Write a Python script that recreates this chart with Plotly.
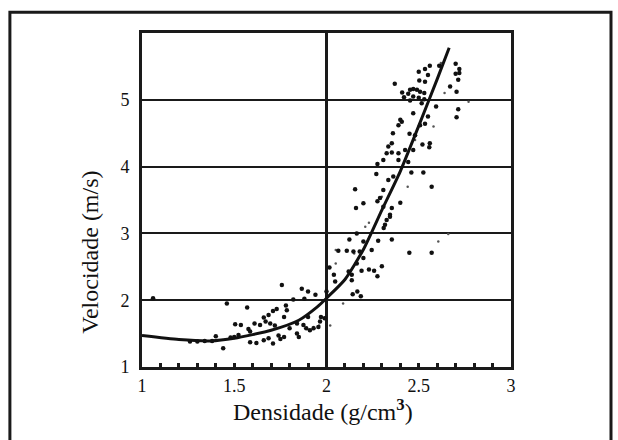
import plotly.graph_objects as go

# Fitted velocity-density trend
curve_x = [1.0, 1.2, 1.37, 1.5, 1.7, 1.85, 1.95, 2.0, 2.1, 2.2, 2.3, 2.4, 2.5, 2.6, 2.665]
curve_y = [1.47, 1.41, 1.39, 1.43, 1.55, 1.70, 1.90, 2.03, 2.31, 2.76, 3.35, 3.93, 4.61, 5.31, 5.78]

# Measured samples (density g/cm3, velocity m/s)
dens = [
    1.758, 1.866, 1.90, 1.94, 1.82, 1.88, 1.46, 1.57, 1.06, 1.73, 1.71, 1.78, 1.785,
    1.686, 1.66, 1.77, 1.67, 1.695, 1.72, 1.64, 1.505, 1.536, 1.577, 1.586, 1.61,
    1.84, 1.875, 1.89, 1.93, 1.956, 1.91, 1.97, 1.90, 1.80, 1.84, 1.85, 1.77, 1.74,
    1.75, 1.686, 1.71, 1.66, 1.62, 1.586, 1.523, 1.50, 1.48, 1.40, 1.44, 1.26, 1.30,
    1.34, 1.38, 1.99, 1.965,
    2.344, 2.326, 2.317, 2.31, 2.164, 2.28, 2.354, 2.449, 2.20, 2.124, 2.064, 2.11,
    2.146, 2.18, 2.245, 2.20, 2.164, 2.19, 2.23, 2.258, 2.276, 2.30, 2.137, 2.137,
    2.12, 2.016, 2.04, 2.047, 2.142, 2.167, 2.186, 2.00, 2.57,
    2.408, 2.39, 2.534, 2.507, 2.36, 2.45, 2.48, 2.56, 2.557, 2.52, 2.354, 2.335,
    2.426, 2.47, 2.326, 2.354, 2.39, 2.308, 2.39, 2.443, 2.276, 2.27, 2.46, 2.525,
    2.362, 2.335, 2.308, 2.57, 2.155, 2.20, 2.16, 2.40, 2.308, 2.354, 2.344, 2.29, 2.276,
    2.611, 2.56, 2.534, 2.50, 2.55, 2.70, 2.72, 2.72, 2.70, 2.503, 2.534, 2.714, 2.67,
    2.705, 2.37, 2.453, 2.47, 2.49, 2.507, 2.53, 2.443, 2.41, 2.42, 2.47, 2.50, 2.53,
    2.453, 2.516, 2.594, 2.47, 2.714, 2.705, 2.40, 2.55,
]
vel = [
    2.226, 2.17, 2.13, 2.08, 2.01, 2.02, 1.95, 1.89, 2.03, 1.87, 1.84, 1.92, 1.85,
    1.78, 1.74, 1.75, 1.68, 1.65, 1.62, 1.63, 1.64, 1.63, 1.57, 1.53, 1.65,
    1.65, 1.63, 1.58, 1.58, 1.60, 1.55, 1.75, 1.75, 1.58, 1.50, 1.45, 1.45, 1.47,
    1.42, 1.43, 1.35, 1.40, 1.36, 1.37, 1.48, 1.45, 1.44, 1.46, 1.28, 1.38, 1.38,
    1.39, 1.39, 1.73, 1.68,
    3.28, 3.20, 3.13, 3.08, 3.00, 2.89, 2.91, 2.71, 2.88, 2.91, 2.74, 2.74,
    2.73, 2.73, 2.75, 2.63, 2.55, 2.44, 2.46, 2.44, 2.36, 2.51, 2.38, 2.30,
    2.43, 2.49, 2.38, 2.28, 2.09, 2.13, 2.06, 2.13, 2.71,
    4.67, 4.62, 4.64, 4.62, 4.50, 4.49, 4.47, 4.35, 4.29, 4.33, 4.35, 4.30,
    4.25, 4.25, 4.20, 4.21, 4.20, 4.10, 4.10, 4.07, 4.04, 3.89, 3.91, 3.91,
    3.85, 3.80, 3.65, 3.70, 3.66, 3.45, 3.38, 3.46, 3.40, 3.38, 3.25, 3.53, 3.48,
    5.51, 5.51, 5.46, 5.42, 5.37, 5.54, 5.46, 5.40, 5.39, 5.29, 5.27, 5.30, 5.20,
    5.12, 5.24, 5.15, 5.16, 5.15, 5.12, 5.10, 5.09, 5.11, 5.04, 5.05, 5.03, 5.01,
    4.99, 4.95, 4.90, 4.80, 4.86, 4.74, 4.70, 4.75,
]

# Faint, small samples
dens_small = [2.23, 2.21, 2.05, 2.15, 2.05, 2.66, 2.606, 2.77, 2.62, 2.58, 2.44,
              2.09, 2.30, 2.48, 2.64, 1.96, 2.02, 1.93]
vel_small = [3.16, 3.10, 2.75, 2.70, 2.55, 2.99, 2.88, 4.97, 5.55, 4.60, 3.70,
             1.95, 3.55, 4.40, 5.10, 1.62, 1.62, 1.60]

tick_vals_x = [1, 1.5, 2, 2.5, 3]
tick_text_x = ["1", "1.5", "2", "2.5", "3"]
tick_vals_y = [1, 2, 3, 4, 5]
tick_text_y = ["1", "2", "3", "4", "5"]

x_title = "Densidade (g/cm<sup><b>3</b></sup>)"
y_title = "Velocidade (m/s)"

serif = "Times New Roman, Liberation Serif, Tinos, DejaVu Serif"

fig = go.Figure()
fig.add_trace(go.Scatter(x=dens_small, y=vel_small, mode="markers",
                         marker=dict(size=2.5, color="#555555"),
                         hoverinfo="skip", showlegend=False))
fig.add_trace(go.Scatter(x=dens, y=vel, mode="markers",
                         marker=dict(size=4.5, color="#111111"),
                         showlegend=False))
fig.add_trace(go.Scatter(x=curve_x, y=curve_y, mode="lines",
                         line=dict(color="#111111", width=3, shape="spline", smoothing=0.6),
                         showlegend=False))

# Vertical reference line at density 2
fig.add_vline(x=2, line=dict(color="#1a1a1a", width=3), layer="below")

# Outer frame around the whole figure
fig.add_shape(type="rect", xref="paper", yref="paper",
              x0=-0.358, x1=1.271, y0=-0.25, y1=1.062,
              line=dict(color="#1a1a1a", width=3), fillcolor="rgba(0,0,0,0)")

# Axis titles
fig.add_annotation(text=x_title, xref="paper", yref="paper", x=0.49, y=-0.129,
                   xanchor="center", yanchor="middle", showarrow=False,
                   font=dict(size=24, family=serif, color="#111111"))
fig.add_annotation(text=y_title, xref="paper", yref="paper", x=-0.141, y=0.345,
                   xanchor="center", yanchor="middle", showarrow=False, textangle=-90,
                   font=dict(size=24, family=serif, color="#111111"))

fig.update_layout(
    width=618, height=440,
    margin=dict(l=142, r=107, t=33, b=73),
    paper_bgcolor="white", plot_bgcolor="white",
    font=dict(family=serif, color="#111111"),
    xaxis=dict(
        range=[1, 3], tickvals=tick_vals_x, ticktext=tick_text_x,
        showgrid=False, zeroline=False,
        showline=True, linecolor="#1a1a1a", linewidth=3, mirror=True,
        ticks="inside", ticklen=4, tickwidth=3, tickcolor="#1a1a1a",
        minor=dict(dtick=0.1, tick0=1, ticks="inside", ticklen=4, tickwidth=3,
                   tickcolor="#1a1a1a", showgrid=False),
        tickfont=dict(size=18, family=serif),
    ),
    yaxis=dict(
        range=[1, 6], tickvals=tick_vals_y, ticktext=tick_text_y,
        showgrid=True, gridcolor="#1a1a1a", gridwidth=2, zeroline=False,
        showline=True, linecolor="#1a1a1a", linewidth=3, mirror=True,
        ticks="", ticklabelstandoff=6,
        tickfont=dict(size=18, family=serif),
    ),
)

fig.write_html("out.html")
